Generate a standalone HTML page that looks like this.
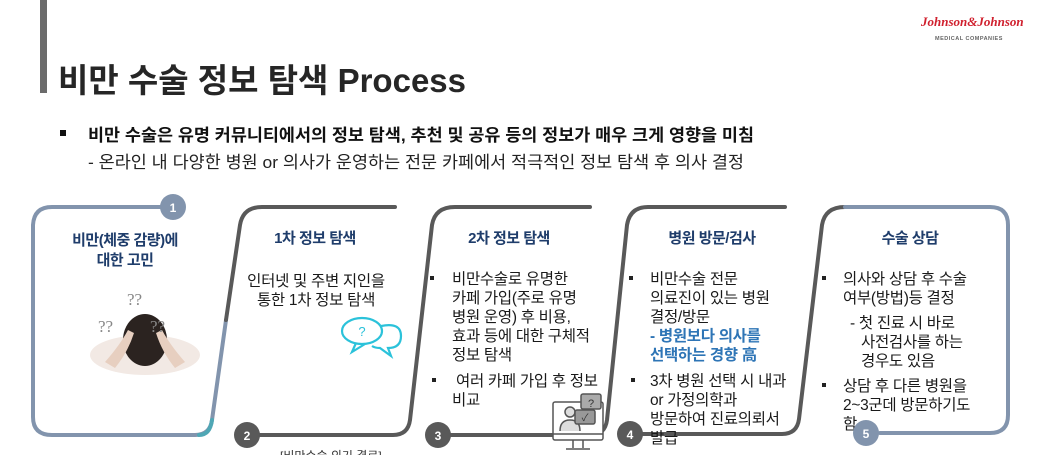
<!DOCTYPE html>
<html><head><meta charset="utf-8"><style>
html,body{margin:0;padding:0;background:#fff;}
body{width:1040px;height:455px;overflow:hidden;position:relative;font-family:"Liberation Sans","Noto Sans CJK KR",sans-serif;}
svg{position:absolute;left:0;top:0;}
</style></head><body>
<svg width="1040" height="455" viewBox="0 0 1040 455" xmlns="http://www.w3.org/2000/svg" font-family="Liberation Sans, Noto Sans CJK KR, sans-serif">
<rect x="40" y="0" width="7" height="93" fill="#6b6b6b"/>
<text x="58" y="92" font-size="33" font-weight="bold" fill="#262626" textLength="408">비만 수술 정보 탐색 Process</text>
<text x="921" y="26" font-size="13" font-style="italic" font-family="Liberation Serif, serif" fill="#d0202e" font-weight="bold">Johnson&amp;Johnson</text>
<text x="935" y="40" font-size="5.5" fill="#666" font-weight="bold" letter-spacing="0.5">MEDICAL COMPANIES</text>
<rect x="60" y="130" width="6" height="6" fill="#111"/>
<text x="88" y="141" font-size="17" font-weight="bold" fill="#111" textLength="666" lengthAdjust="spacingAndGlyphs">비만 수술은 유명 커뮤니티에서의 정보 탐색, 추천 및 공유 등의 정보가 매우 크게 영향을 미침</text>
<text x="88" y="168" font-size="17" fill="#222" textLength="656" lengthAdjust="spacingAndGlyphs">- 온라인 내 다양한 병원 or 의사가 운영하는 전문 카페에서 적극적인 정보 탐색 후 의사 결정</text>

<g fill="none" stroke-width="4" stroke-linecap="round">
<path d="M160,207 H52 Q34,207 33,225 V417 Q33,435 52,435 H195 Q210,435 212,420 L226,320" stroke="#8294ad"/>
<path d="M199,435 Q210,435 212,420" stroke="#4fa7b5"/>
<path d="M226,320 L240,225 Q243,207 262,207 H395" stroke="#595959"/>
<path d="M260,435 H393 Q408,435 410,420 L432,225 Q435,207 455,207 H590" stroke="#595959"/>
<path d="M451,435 H590 Q605,435 607,420 L627,225 Q630,207 648,207 H785" stroke="#595959"/>
<path d="M643,434 H782 Q797,434 799,419 L822,225 Q825,207 845,207" stroke="#595959"/>
<path d="M845,207 H990 Q1008,207 1008,225 V415 Q1008,433 990,433 H880" stroke="#8294ad"/>
</g>
<g font-size="12" font-weight="bold" fill="#fff" text-anchor="middle">
<circle cx="173" cy="207" r="13" fill="#8294ad"/><text x="173" y="212">1</text>
<circle cx="247" cy="435" r="13" fill="#595959"/><text x="247" y="440">2</text>
<circle cx="438" cy="435" r="13" fill="#595959"/><text x="438" y="440">3</text>
<circle cx="630" cy="434" r="13" fill="#595959"/><text x="630" y="439">4</text>
</g>

<!-- woman image -->
<g>
<ellipse cx="145" cy="355" rx="55" ry="20" fill="#f2e9e4"/>
<ellipse cx="145" cy="340" rx="22" ry="26" fill="#2b2320"/>
<path d="M105,362 Q120,345 128,330 L134,333 Q128,352 115,368 Z" fill="#e7cfc0"/>
<path d="M185,362 Q170,345 162,330 L156,333 Q162,352 175,368 Z" fill="#e7cfc0"/>
<g font-family="Liberation Serif, serif" font-size="17" fill="#888">
<text x="127" y="305">??</text><text x="98" y="332">??</text><text x="150" y="332">??</text>
</g>
</g>

<!-- speech bubbles -->
<g fill="none" stroke="#2bc2da" stroke-width="2.2">
<ellipse cx="362" cy="331" rx="20" ry="13"/>
<path d="M356,343 L352,352 L365,344"/>
<path d="M381,326 Q401,322 401,336 Q401,348 388,348 L391,356 L380,348 Q375,348 372,346"/>
</g>
<text x="362" y="336" font-size="13" fill="#2bc2da" text-anchor="middle">?</text>

<!-- computer icon -->
<g stroke="#555" stroke-width="1.5" fill="#fff">
<rect x="553" y="402" width="50" height="38" rx="2"/>
<line x1="553" y1="434" x2="603" y2="434"/>
<path d="M573,440 V448 M583,440 V448 M566,449 H590"/>
<circle cx="570" cy="412" r="5" fill="#ddd"/>
<path d="M560,431 Q560,420 570,420 Q580,420 580,431" fill="#ddd"/>
<rect x="581" y="394" width="20" height="15" rx="2" fill="#aaa"/>
<rect x="575" y="410" width="20" height="14" rx="2" fill="#999"/>
</g>
<text x="591" y="407" font-size="11" fill="#333" text-anchor="middle">?</text>
<text x="585" y="421" font-size="10" fill="#333" text-anchor="middle">✓</text>

<g font-size="15" font-weight="bold" fill="#1f3d6b" text-anchor="middle" letter-spacing="-0.5">
<text x="125" y="245">비만(체중 감량)에</text>
<text x="125" y="265">대한 고민</text>
<text x="315" y="243">1차 정보 탐색</text>
<text x="509" y="243">2차 정보 탐색</text>
<text x="712" y="243">병원 방문/검사</text>
<text x="910" y="243">수술 상담</text>
</g>

<g font-size="15.5" fill="#1a1a1a" letter-spacing="-0.3">
<text x="316" y="286" text-anchor="middle">인터넷 및 주변 지인을</text>
<text x="316" y="305" text-anchor="middle">통한 1차 정보 탐색</text>

<rect x="430" y="276" width="4" height="4" fill="#222" stroke="none"/>
<text x="452" y="284">비만수술로 유명한</text>
<text x="452" y="303">카페 가입(주로 유명</text>
<text x="452" y="322">병원 운영) 후 비용,</text>
<text x="452" y="341">효과 등에 대한 구체적</text>
<text x="452" y="360">정보 탐색</text>
<rect x="432" y="378" width="4" height="4" fill="#222"/>
<text x="456" y="386">여러 카페 가입 후 정보</text>
<text x="452" y="405">비교</text>

<rect x="629" y="276" width="4" height="4" fill="#222"/>
<text x="650" y="284">비만수술 전문</text>
<text x="650" y="303">의료진이 있는 병원</text>
<text x="650" y="322">결정/방문</text>
<text x="650" y="341" fill="#2e75b6" font-weight="bold">- 병원보다 의사를</text>
<text x="650" y="360" fill="#2e75b6" font-weight="bold">선택하는 경향 高</text>
<rect x="631" y="378" width="4" height="4" fill="#222"/>
<text x="650" y="386">3차 병원 선택 시 내과</text>
<text x="650" y="405">or 가정의학과</text>
<text x="650" y="424">방문하여 진료의뢰서</text>
<text x="650" y="443">발급</text>

<rect x="822" y="276" width="4" height="4" fill="#222"/>
<text x="843" y="284">의사와 상담 후 수술</text>
<text x="843" y="303">여부(방법)등 결정</text>
<text x="850" y="328">- 첫 진료 시 바로</text>
<text x="861" y="347">사전검사를 하는</text>
<text x="861" y="366">경우도 있음</text>
<rect x="822" y="383" width="4" height="4" fill="#222"/>
<text x="843" y="391">상담 후 다른 병원을</text>
<text x="843" y="410">2~3군데 방문하기도</text>
<text x="843" y="429">함</text>
</g>
<g font-size="12" font-weight="bold" fill="#fff" text-anchor="middle">
<circle cx="866" cy="433" r="13" fill="#8294ad"/><text x="866" y="438">5</text>
</g>
<text x="280" y="460" font-size="12" fill="#333">[비만수술 의기 결로]</text>
</svg>
</body></html>
